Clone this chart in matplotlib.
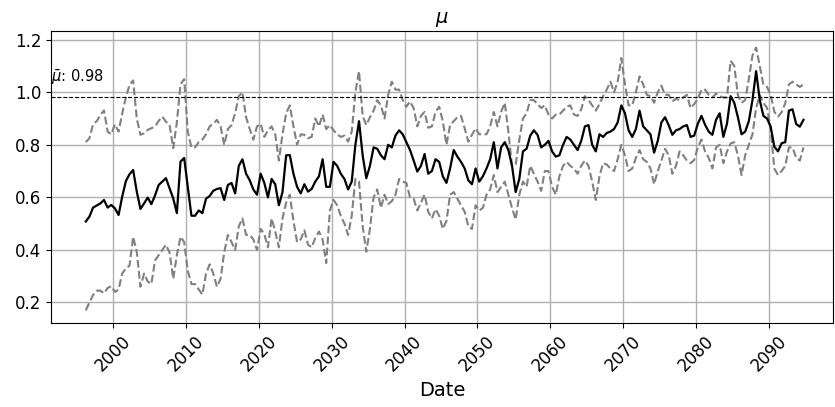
import matplotlib
matplotlib.use("Agg")
import matplotlib.pyplot as plt
import matplotlib.dates as mdates
import pandas as pd
import numpy as np

# half-yearly samples starting April 1996
start_date = "1996-04-01"

mu_mean = [
    0.508, 0.527, 0.561, 0.569, 0.577, 0.590, 0.561, 0.571, 0.558, 0.533,
    0.603, 0.662, 0.688, 0.704, 0.622, 0.556, 0.577, 0.599, 0.574, 0.607,
    0.647, 0.660, 0.673, 0.635, 0.596, 0.540, 0.736, 0.750, 0.640, 0.530,
    0.530, 0.550, 0.540, 0.595, 0.605, 0.625, 0.632, 0.635, 0.590, 0.647,
    0.655, 0.615, 0.720, 0.745, 0.690, 0.665, 0.630, 0.610, 0.690, 0.655,
    0.600, 0.670, 0.650, 0.570, 0.620, 0.760, 0.761, 0.690, 0.640, 0.615,
    0.650, 0.622, 0.632, 0.660, 0.680, 0.745, 0.640, 0.640, 0.735, 0.720,
    0.690, 0.670, 0.630, 0.660, 0.800, 0.890, 0.760, 0.673, 0.720, 0.790,
    0.785, 0.760, 0.745, 0.800, 0.790, 0.835, 0.855, 0.840, 0.810, 0.780,
    0.740, 0.698, 0.720, 0.765, 0.690, 0.700, 0.745, 0.735, 0.680, 0.655,
    0.710, 0.780, 0.755, 0.735, 0.710, 0.665, 0.650, 0.710, 0.660, 0.680,
    0.710, 0.745, 0.810, 0.710, 0.790, 0.810, 0.780, 0.720, 0.620, 0.670,
    0.775, 0.785, 0.835, 0.855, 0.838, 0.790, 0.800, 0.815, 0.775, 0.755,
    0.760, 0.800, 0.830, 0.820, 0.800, 0.780, 0.815, 0.870, 0.875, 0.800,
    0.775, 0.840, 0.830, 0.845, 0.850, 0.860, 0.885, 0.950, 0.920, 0.855,
    0.830, 0.860, 0.930, 0.870, 0.855, 0.840, 0.770, 0.815, 0.885, 0.905,
    0.875, 0.838, 0.855, 0.860, 0.870, 0.875, 0.830, 0.835, 0.880, 0.910,
    0.876, 0.850, 0.838, 0.895, 0.920, 0.830, 0.880, 0.985, 0.960, 0.905,
    0.840, 0.850, 0.890, 0.970, 1.080, 0.970, 0.910, 0.900, 0.869, 0.793,
    0.775, 0.806, 0.810, 0.930, 0.935, 0.879, 0.869, 0.895,
]

mu_upper = [
    0.810, 0.825, 0.878, 0.890, 0.914, 0.931, 0.850, 0.840, 0.878, 0.850,
    0.920, 0.980, 1.028, 1.045, 0.900, 0.838, 0.844, 0.857, 0.863, 0.870,
    0.891, 0.907, 0.888, 0.876, 0.787, 0.886, 1.030, 1.050, 0.850, 0.790,
    0.790, 0.810, 0.820, 0.840, 0.870, 0.880, 0.895, 0.870, 0.800, 0.860,
    0.875, 0.920, 0.985, 1.000, 0.905, 0.860, 0.820, 0.870, 0.880, 0.830,
    0.855, 0.870, 0.840, 0.740, 0.840, 0.920, 0.950, 0.870, 0.800, 0.840,
    0.838, 0.825, 0.830, 0.900, 0.870, 0.915, 0.860, 0.875, 0.855, 0.840,
    0.830, 0.835, 0.812, 0.850, 1.000, 1.080, 0.910, 0.875, 0.905, 0.930,
    0.970, 0.950, 0.900, 0.990, 1.040, 1.010, 1.010, 0.970, 0.945, 0.965,
    0.940, 0.870, 0.910, 0.925, 0.865, 0.870, 0.925, 0.945, 0.890, 0.800,
    0.875, 0.890, 0.905, 0.910, 0.863, 0.812, 0.838, 0.863, 0.840, 0.840,
    0.840, 0.870, 0.925, 0.870, 0.925, 0.960, 0.850, 0.720, 0.725, 0.820,
    0.900, 0.920, 0.970, 0.970, 0.955, 0.940, 0.950, 0.915, 0.900, 0.915,
    0.915, 0.930, 0.945, 0.950, 0.915, 0.910, 0.935, 0.985, 0.970, 0.950,
    0.930, 0.955, 0.985, 1.010, 1.040, 1.000, 1.040, 1.130, 1.030, 0.950,
    0.950, 1.000, 1.060, 1.030, 0.990, 0.985, 0.960, 1.000, 1.025, 0.990,
    0.990, 0.965, 0.975, 0.970, 0.980, 0.990, 0.940, 0.955, 0.975, 1.010,
    1.010, 0.990, 0.980, 0.995, 0.985, 0.980, 0.980, 1.120, 1.100, 0.990,
    0.960, 0.970, 1.050, 1.140, 1.170, 1.100, 1.028, 1.020, 0.990, 0.926,
    0.907, 0.924, 0.958, 1.030, 1.040, 1.030, 1.020, 1.030,
]

mu_lower = [
    0.170, 0.200, 0.228, 0.245, 0.245, 0.235, 0.255, 0.262, 0.240, 0.250,
    0.310, 0.330, 0.340, 0.450, 0.393, 0.260, 0.310, 0.280, 0.270, 0.360,
    0.380, 0.400, 0.420, 0.390, 0.290, 0.380, 0.450, 0.430, 0.320, 0.270,
    0.270, 0.250, 0.230, 0.310, 0.345, 0.310, 0.260, 0.290, 0.390, 0.457,
    0.430, 0.400, 0.490, 0.520, 0.457, 0.457, 0.440, 0.400, 0.480, 0.460,
    0.410, 0.520, 0.470, 0.410, 0.520, 0.580, 0.610, 0.510, 0.430, 0.440,
    0.475, 0.420, 0.410, 0.445, 0.470, 0.440, 0.350, 0.550, 0.590, 0.570,
    0.530, 0.500, 0.457, 0.530, 0.670, 0.660, 0.490, 0.393, 0.480, 0.600,
    0.630, 0.560, 0.610, 0.575, 0.585, 0.610, 0.670, 0.660, 0.655, 0.600,
    0.595, 0.550, 0.580, 0.610, 0.545, 0.520, 0.555, 0.530, 0.480, 0.510,
    0.610, 0.620, 0.595, 0.570, 0.545, 0.490, 0.480, 0.570, 0.550, 0.560,
    0.610, 0.630, 0.685, 0.620, 0.640, 0.660, 0.610, 0.560, 0.515, 0.610,
    0.660, 0.640, 0.720, 0.690, 0.660, 0.625, 0.700, 0.700, 0.640, 0.610,
    0.680, 0.720, 0.735, 0.720, 0.710, 0.690, 0.720, 0.740, 0.720, 0.660,
    0.590, 0.680, 0.730, 0.725, 0.710, 0.700, 0.745, 0.800, 0.760, 0.700,
    0.710, 0.750, 0.780, 0.745, 0.735, 0.710, 0.650, 0.700, 0.740, 0.785,
    0.760, 0.690, 0.720, 0.775, 0.760, 0.740, 0.730, 0.742, 0.790, 0.820,
    0.774, 0.750, 0.710, 0.790, 0.800, 0.730, 0.774, 0.805, 0.810, 0.760,
    0.685, 0.760, 0.800, 0.840, 0.940, 0.990, 0.960, 0.940, 0.860, 0.710,
    0.685, 0.700, 0.720, 0.790, 0.790, 0.750, 0.740, 0.790,
]

mu_bar = 0.98
title = r"$\mu$"
xlabel = "Date"
bar_label = r"$\bar{\mu}$: 0.98"

dates = pd.date_range(start_date, periods=len(mu_mean), freq="6MS")

fig = plt.figure(figsize=(8.35, 4.07), dpi=100)
ax = fig.add_axes([0.0611, 0.2071, 0.9365, 0.7167])

ax.plot(dates, mu_upper, color="gray", linestyle="--", linewidth=1.5)
ax.plot(dates, mu_lower, color="gray", linestyle="--", linewidth=1.5)
ax.plot(dates, mu_mean, color="black", linewidth=1.6)
ax.axhline(mu_bar, color="black", linestyle="--", linewidth=0.8)

ax.set_xlim(pd.Timestamp("1991-06-24"), pd.Timestamp("2098-10-20"))
ax.set_ylim(0.123, 1.233)
ax.text(0.0, mu_bar + 0.04, bar_label, transform=ax.get_yaxis_transform(),
        ha="left", va="bottom", fontsize=10.5)

ax.xaxis.set_major_locator(mdates.YearLocator(10))
ax.xaxis.set_major_formatter(mdates.DateFormatter("%Y"))
ax.set_yticks([0.2, 0.4, 0.6, 0.8, 1.0, 1.2])
ax.grid(True, color="#b0b0b0", linewidth=1.0)
ax.set_axisbelow(True)
ax.tick_params(axis="both", labelsize=12)
plt.setp(ax.get_xticklabels(), rotation=45)
ax.set_xlabel(xlabel, fontsize=14)
ax.set_title(title, fontsize=14)

fig.savefig("out.png", dpi=100)
